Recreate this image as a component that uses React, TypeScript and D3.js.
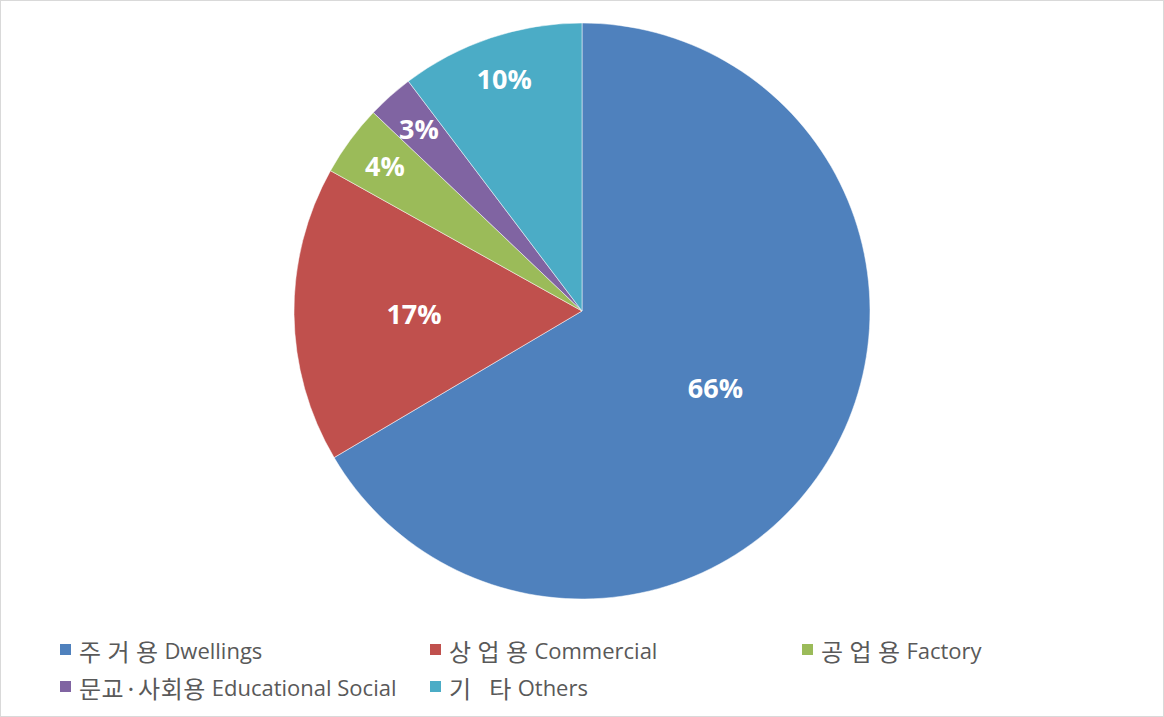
import React from "react";
import * as d3 from "d3";

const categories = ["주 거 용 Dwellings", "상 업 용 Commercial", "공 업 용 Factory", "문교·사회용 Educational Social", "기   타 Others"];
const values = [66.5, 16.6, 4.0, 2.6, 10.3];
const labels = ["66%", "17%", "4%", "3%", "10%"];
const colors = ["#4f81bd", "#c0504d", "#9bbb59", "#8064a2", "#4bacc6"];

const W = 1164;
const H = 717;

export default function App() {
  const cx = 582, cy = 311, R = 288;
  const pie = d3.pie<number>().sort(null).value((d) => d)(values);
  const arc = d3.arc<d3.PieArcDatum<number>>().innerRadius(0).outerRadius(R);
  const total = d3.sum(values);
  const legendCols = [60, 430, 802];
  const legendRows = [650, 687];
  return (
    <svg width={W} height={H} style={{ position: "absolute", left: 0, top: 0, background: "#fff" }}
      fontFamily="'Open Sans', 'Noto Sans CJK KR', sans-serif">
      <rect x={0.5} y={0.5} width={W - 1} height={H - 1} fill="#fff" stroke="#d9d9d9" />
      <g transform={`translate(${cx},${cy})`}>
        {pie.map((p, i) => (
          <path key={i} d={arc(p) || ""} fill={colors[i]} stroke="#fff" strokeWidth={0.5} />
        ))}
        {pie.map((p, i) => {
          const frac = values[i] / total;
          const r = frac < 0.12 ? R * 0.85 : R * (0.6 - 0.1 * frac);
          const c = d3.arc<d3.PieArcDatum<number>>().innerRadius(r).outerRadius(r).centroid(p);
          return (
            <text key={i} x={c[0]} y={c[1]} textAnchor="middle" dominantBaseline="central"
              fill="#fff" fontWeight="bold" fontSize={27}>{labels[i]}</text>
          );
        })}
      </g>
      {categories.map((c, i) => {
        const x = legendCols[i % 3];
        const y = legendRows[Math.floor(i / 3)];
        const m = c.match(/^([^A-Za-z]*)(.*)$/) || ["", c, ""];
        return (
          <g key={i}>
            <rect x={x} y={y - 6} width={11} height={11} fill={colors[i]} />
            <text x={x + 19} y={y} dominantBaseline="central" fill="#595959"
              style={{ whiteSpace: "pre" }}>
              <tspan fontSize={24} fontFamily="'Noto Sans CJK KR', sans-serif" letterSpacing={0.5}>{m[1]}</tspan>
              <tspan fontSize={22}>{m[2]}</tspan>
            </text>
          </g>
        );
      })}
    </svg>
  );
}
